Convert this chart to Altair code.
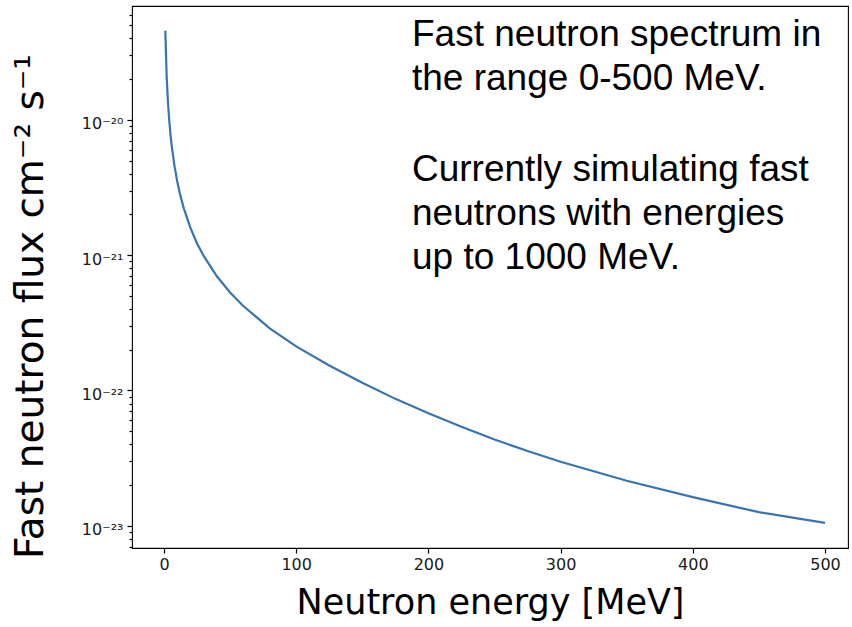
import altair as alt
import pandas as pd

# Fast neutron spectrum, 0-500 MeV
energy_mev = [1, 2, 3, 4, 5, 6, 8, 10, 12, 15, 20, 25, 30, 40, 50, 60, 80,
              100, 125, 150, 175, 200, 225, 250, 275, 300, 350, 400, 450, 500]
flux = [4.57e-20, 2.12e-20, 1.35e-20, 9.84e-21, 7.66e-21, 6.25e-21, 4.53e-21,
        3.52e-21, 2.86e-21, 2.22e-21, 1.59e-21, 1.22e-21, 9.89e-22, 6.98e-22,
        5.30e-22, 4.21e-22, 2.88e-22, 2.12e-22, 1.53e-22, 1.14e-22, 8.67e-23,
        6.78e-23, 5.40e-23, 4.34e-23, 3.57e-23, 2.97e-23, 2.15e-23, 1.63e-23,
        1.26e-23, 1.05e-23]

x_ticks = [0, 100, 200, 300, 400, 500]
y_major = [1e-23, 1e-22, 1e-21, 1e-20]
y_major_labels = ["10⁻²³", "10⁻²²", "10⁻²¹", "10⁻²⁰"]
decades = [1e-24, 1e-23, 1e-22, 1e-21, 1e-20]

x_domain = [-24.2, 517.4]
y_domain = [6.85e-24, 6.95e-20]

# annotation: two paragraphs, anchored in data space
note_paragraphs = [
    "Fast neutron spectrum in\nthe range 0-500 MeV.",
    "Currently simulating fast\nneutrons with energies\nup to 1000 MeV.",
]
note_energy = [187.6, 187.6]
note_flux = [3.51e-20, 3.535e-21]

# log-axis minor ticks (2..9 x each decade) inside the visible range
y_minor = [m * d for d in decades for m in range(2, 10)
           if y_domain[0] <= m * d <= y_domain[1]]

label_expr = "''"
for v, lab in zip(y_major, y_major_labels):
    label_expr = f"datum.value == {v!r} ? '{lab}' : ({label_expr})"

df = pd.DataFrame({"energy": energy_mev, "flux": flux})

x_scale = alt.Scale(domain=x_domain, nice=False, zero=False)
y_scale = alt.Scale(type="log", domain=y_domain, nice=False)

x_enc = alt.X("energy:Q", scale=x_scale,
              axis=alt.Axis(values=x_ticks, format="d", title="Neutron energy [MeV]",
                            tickSize=5, labelPadding=3, labelFontSize=16,
                            labelFlush=False, titleFontSize=35,
                            titleBaseline="alphabetic", titleY=65))

line = alt.Chart(df).mark_line(color="#3874b2", strokeWidth=2.2).encode(
    x=x_enc,
    y=alt.Y("flux:Q", scale=y_scale,
            axis=alt.Axis(values=y_major, labelExpr=label_expr, orient="left",
                          ticks=True, tickSize=5,
                          labelPadding=4, labelFontSize=16,
                          labelOffset=4, labelOverlap=False, labelFlush=False,
                          title="Fast neutron flux cm⁻² s⁻¹", titleFontSize=39,
                          titleAngle=-90, titleBaseline="alphabetic",
                          titleX=-90, titleY=300)),
)

# second, label-free left axis carrying the shorter minor ticks
minor_axis = alt.Chart(df).mark_line(opacity=0).encode(
    x=alt.X("energy:Q", scale=x_scale, axis=None),
    y=alt.Y("flux:Q", scale=y_scale,
            axis=alt.Axis(values=y_minor, orient="left", labels=False,
                          ticks=True, tickSize=3, title=None)),
)

note_df = pd.DataFrame({"energy": note_energy, "flux": note_flux,
                        "text": note_paragraphs})
note = alt.Chart(note_df).mark_text(
    align="left", baseline="alphabetic", font="Liberation Sans",
    fontSize=37, lineHeight=44, lineBreak="\n", color="black",
).encode(
    x=alt.X("energy:Q", scale=x_scale, axis=None),
    y=alt.Y("flux:Q", scale=y_scale, axis=None),
    text="text:N",
)

chart = (
    alt.layer(line, minor_axis, note)
    .resolve_axis(y="independent", x="independent")
    .properties(width=716, height=542,
                autosize=alt.AutoSizeParams(type="none"),
                padding={"left": 132, "top": 6, "right": 4, "bottom": 79})
    .configure_view(stroke="black", strokeWidth=1.1)
    .configure_axis(domain=False, grid=False, tickColor="black", tickWidth=1.2,
                    labelColor="#1a1a1a", titleColor="black",
                    labelFont="DejaVu Sans", titleFont="DejaVu Sans",
                    titleFontWeight="normal")
)

chart.save("out.html", embed_options={"renderer": "svg", "actions": False})
